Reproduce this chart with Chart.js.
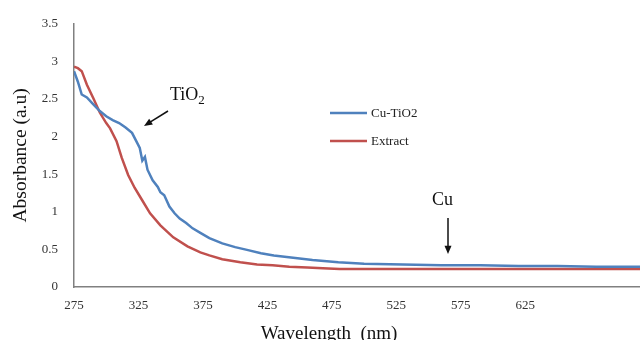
<!DOCTYPE html>
<html>
<head>
<meta charset="utf-8">
<script src="https://cdn.jsdelivr.net/npm/chart.js@4"></script>
<style>
    body { margin: 0; background: #fff; }
    #wrap { width: 640px; height: 340px; }
</style>
</head>
<body>
<div id="wrap"><canvas id="absChart" width="640" height="340"></canvas></div>
<script>
// Data
const cuWavelength = [275, 278, 281, 285, 290, 295, 300, 305, 310, 315, 320, 323, 326, 328, 330, 332, 336, 340, 342, 345, 349, 353, 357, 362, 367, 373, 380, 390, 400, 410, 420, 430, 440, 460, 480, 500, 530, 560, 590, 620, 650, 680, 714];
const cuAbsorbance = [2.87, 2.73, 2.56, 2.52, 2.43, 2.34, 2.27, 2.22, 2.18, 2.12, 2.05, 1.95, 1.85, 1.68, 1.73, 1.56, 1.42, 1.33, 1.26, 1.22, 1.07, 0.98, 0.91, 0.85, 0.78, 0.72, 0.65, 0.58, 0.53, 0.49, 0.45, 0.42, 0.40, 0.36, 0.33, 0.31, 0.30, 0.29, 0.29, 0.28, 0.28, 0.27, 0.27];

const extractWavelength = [275, 278, 281, 285, 290, 295, 300, 303, 308, 312, 317, 322, 328, 334, 342, 352, 363, 373, 380, 390, 404, 417, 429, 442, 456, 468, 481, 520, 560, 600, 640, 680, 714];
const extractAbsorbance = [2.93, 2.91, 2.87, 2.69, 2.51, 2.32, 2.18, 2.11, 1.94, 1.72, 1.49, 1.32, 1.15, 0.98, 0.82, 0.66, 0.54, 0.46, 0.42, 0.37, 0.33, 0.30, 0.29, 0.27, 0.26, 0.25, 0.24, 0.24, 0.24, 0.24, 0.24, 0.24, 0.24];

const seriesNames = ['Cu-TiO2', 'Extract'];
const xTicks = [275, 325, 375, 425, 475, 525, 575, 625];

const serif = "'Liberation Serif', 'Times New Roman', serif";

function toPoints(xs, ys) {
    return xs.map(function(x, i) { return { x: x, y: ys[i] }; });
}

function arrow(ctx, x1, y1, x2, y2) {
    const ang = Math.atan2(y2 - y1, x2 - x1);
    const head = 9;
    ctx.beginPath();
    ctx.moveTo(x1, y1);
    ctx.lineTo(x2 - Math.cos(ang) * head * 0.8, y2 - Math.sin(ang) * head * 0.8);
    ctx.stroke();
    ctx.beginPath();
    ctx.moveTo(x2, y2);
    ctx.lineTo(x2 - head * Math.cos(ang - 0.4), y2 - head * Math.sin(ang - 0.4));
    ctx.lineTo(x2 - head * Math.cos(ang + 0.4), y2 - head * Math.sin(ang + 0.4));
    ctx.closePath();
    ctx.fill();
}

// Legend, x title and the TiO2 / Cu callouts
const annotate = {
    id: 'annotate',
    afterDraw: function(chart) {
        const ctx = chart.ctx;
        ctx.save();

        // legend
        chart.data.datasets.forEach(function(ds, i) {
            const y = 113 + i * 28;
            ctx.strokeStyle = ds.borderColor;
            ctx.lineWidth = 2.5;
            ctx.beginPath();
            ctx.moveTo(330, y);
            ctx.lineTo(367, y);
            ctx.stroke();
            ctx.fillStyle = '#222';
            ctx.font = '13px ' + serif;
            ctx.textBaseline = 'middle';
            ctx.textAlign = 'left';
            ctx.fillText(ds.label, 371, y + 1);
        });

        ctx.fillStyle = '#111';
        ctx.strokeStyle = '#111';
        ctx.lineWidth = 1.5;
        ctx.textBaseline = 'alphabetic';

        // x axis title (sits left of the plot centre in the original)
        ctx.font = '19px ' + serif;
        ctx.textAlign = 'center';
        ctx.fillText('Wavelength  (nm)', 329, 339);
        ctx.textAlign = 'left';

        // TiO2
        ctx.font = '18px ' + serif;
        ctx.fillText('TiO', 170, 100);
        const w = ctx.measureText('TiO').width;
        ctx.font = '13px ' + serif;
        ctx.fillText('2', 170 + w, 104);
        arrow(ctx, 168, 111, 144, 126);

        // Cu
        ctx.font = '18px ' + serif;
        ctx.fillText('Cu', 432, 205);
        arrow(ctx, 448, 218, 448, 254);

        ctx.restore();
    }
};

const ctx = document.getElementById('absChart').getContext('2d');
const absChart = new Chart(ctx, {
    type: 'line',
    data: {
        datasets: [{
            label: seriesNames[0],
            data: toPoints(cuWavelength, cuAbsorbance),
            borderColor: '#4F81BD',
            borderWidth: 2.5,
            pointRadius: 0,
            tension: 0
        }, {
            label: seriesNames[1],
            data: toPoints(extractWavelength, extractAbsorbance),
            borderColor: '#C0504D',
            borderWidth: 2.5,
            pointRadius: 0,
            tension: 0
        }]
    },
    options: {
        responsive: false,
        animation: false,
        layout: { padding: { top: 22, right: 0, left: 0, bottom: 0 } },
        plugins: {
            legend: { display: false },
            tooltip: { enabled: false }
        },
        scales: {
            x: {
                type: 'linear',
                min: 275,
                max: 714,
                grid: { display: false, drawTicks: false },
                border: { display: true, color: '#808080', width: 1.5 },
                afterBuildTicks: function(scale) {
                    scale.ticks = xTicks.map(function(v) { return { value: v }; });
                },
                afterFit: function(scale) { scale.height = 53; },
                ticks: {
                    color: '#333',
                    padding: 11,
                    maxRotation: 0,
                    font: { family: serif, size: 13 },
                    callback: function(v) { return String(v); }
                }
            },
            y: {
                min: 0,
                max: 3.5,
                grid: { display: false, drawTicks: false },
                border: { display: true, color: '#808080', width: 1.5 },
                afterFit: function(scale) { scale.width = 74; },
                ticks: {
                    stepSize: 0.5,
                    color: '#333',
                    padding: 16,
                    font: { family: serif, size: 13 },
                    callback: function(v) { return String(v); }
                },
                title: {
                    display: true,
                    text: 'Absorbance (a.u)',
                    color: '#111',
                    font: { family: serif, size: 19.5 },
                    padding: { top: 9, bottom: 0 }
                }
            }
        }
    },
    plugins: [annotate]
});
</script>
</body>
</html>
